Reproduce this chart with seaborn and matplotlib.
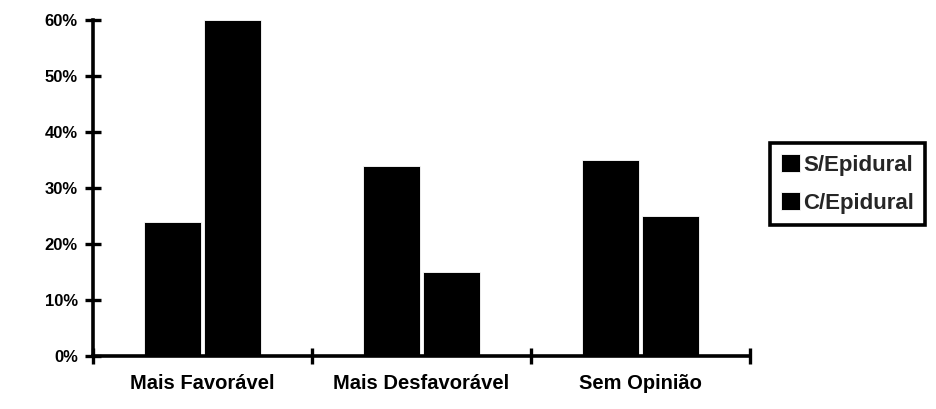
import matplotlib
matplotlib.use("Agg")
import matplotlib.pyplot as plt
import seaborn as sns
import pandas as pd
from matplotlib.ticker import PercentFormatter, FixedLocator

categories = ["Mais Favorável", "Mais Desfavorável", "Sem Opinião"]
series_names = ["S/Epidural", "C/Epidural"]
s_epidural = [24, 34, 35]
c_epidural = [60, 15, 25]
y_ticks = [0, 10, 20, 30, 40, 50, 60]

df = pd.DataFrame({
    "categoria": categories * 2,
    "serie": [series_names[0]] * 3 + [series_names[1]] * 3,
    "valor": s_epidural + c_epidural,
})

sns.set_theme(style="white")
plt.rcParams["font.family"] = ["Liberation Sans", "DejaVu Sans"]
plt.rcParams["font.weight"] = "bold"

fig = plt.figure(figsize=(9.36, 4.09), dpi=100)
ax = fig.add_axes([0.0994, 0.1296, 0.7016, 0.8214])

sns.barplot(data=df, x="categoria", y="valor", hue="serie",
            palette=["black", "black"], width=0.55, gap=0.05,
            saturation=1, ax=ax, edgecolor="white", linewidth=0.6)

ax.set_xlim(-0.5, 2.5)
ax.set_ylim(0, 60)
ax.yaxis.set_major_locator(FixedLocator(y_ticks))
ax.yaxis.set_major_formatter(PercentFormatter(decimals=0))
ax.set_xlabel("")
ax.set_ylabel("")

for s in ["top", "right"]:
    ax.spines[s].set_visible(False)
for s in ["left", "bottom"]:
    ax.spines[s].set_color("black")
    ax.spines[s].set_linewidth(2.6)

ax.tick_params(axis="y", direction="inout", length=12, width=2.4,
               colors="black", labelsize=12, pad=5, left=True)
ax.tick_params(axis="x", which="major", length=0, labelsize=14.5, pad=13,
               colors="black")
ax.set_xticks([-0.5, 0.5, 1.5, 2.5], minor=True)
ax.tick_params(axis="x", which="minor", direction="inout", length=12,
               width=2.4, color="black", bottom=True)
for lab in ax.get_xticklabels() + ax.get_yticklabels():
    lab.set_fontweight("bold")

leg = ax.legend(loc="upper left", bbox_to_anchor=(770 / 936, 1 - 143 / 409),
                bbox_transform=fig.transFigure,
                frameon=True, fancybox=False, framealpha=1, fontsize=16,
                handlelength=0.85, handleheight=0.85, handletextpad=0.15,
                borderpad=0.5, labelspacing=0.75, borderaxespad=0)
frame = leg.get_frame()
frame.set_edgecolor("black")
frame.set_linewidth(2.6)
for t in leg.get_texts():
    t.set_fontweight("bold")

fig.savefig("out.png", dpi=100, facecolor="white")
